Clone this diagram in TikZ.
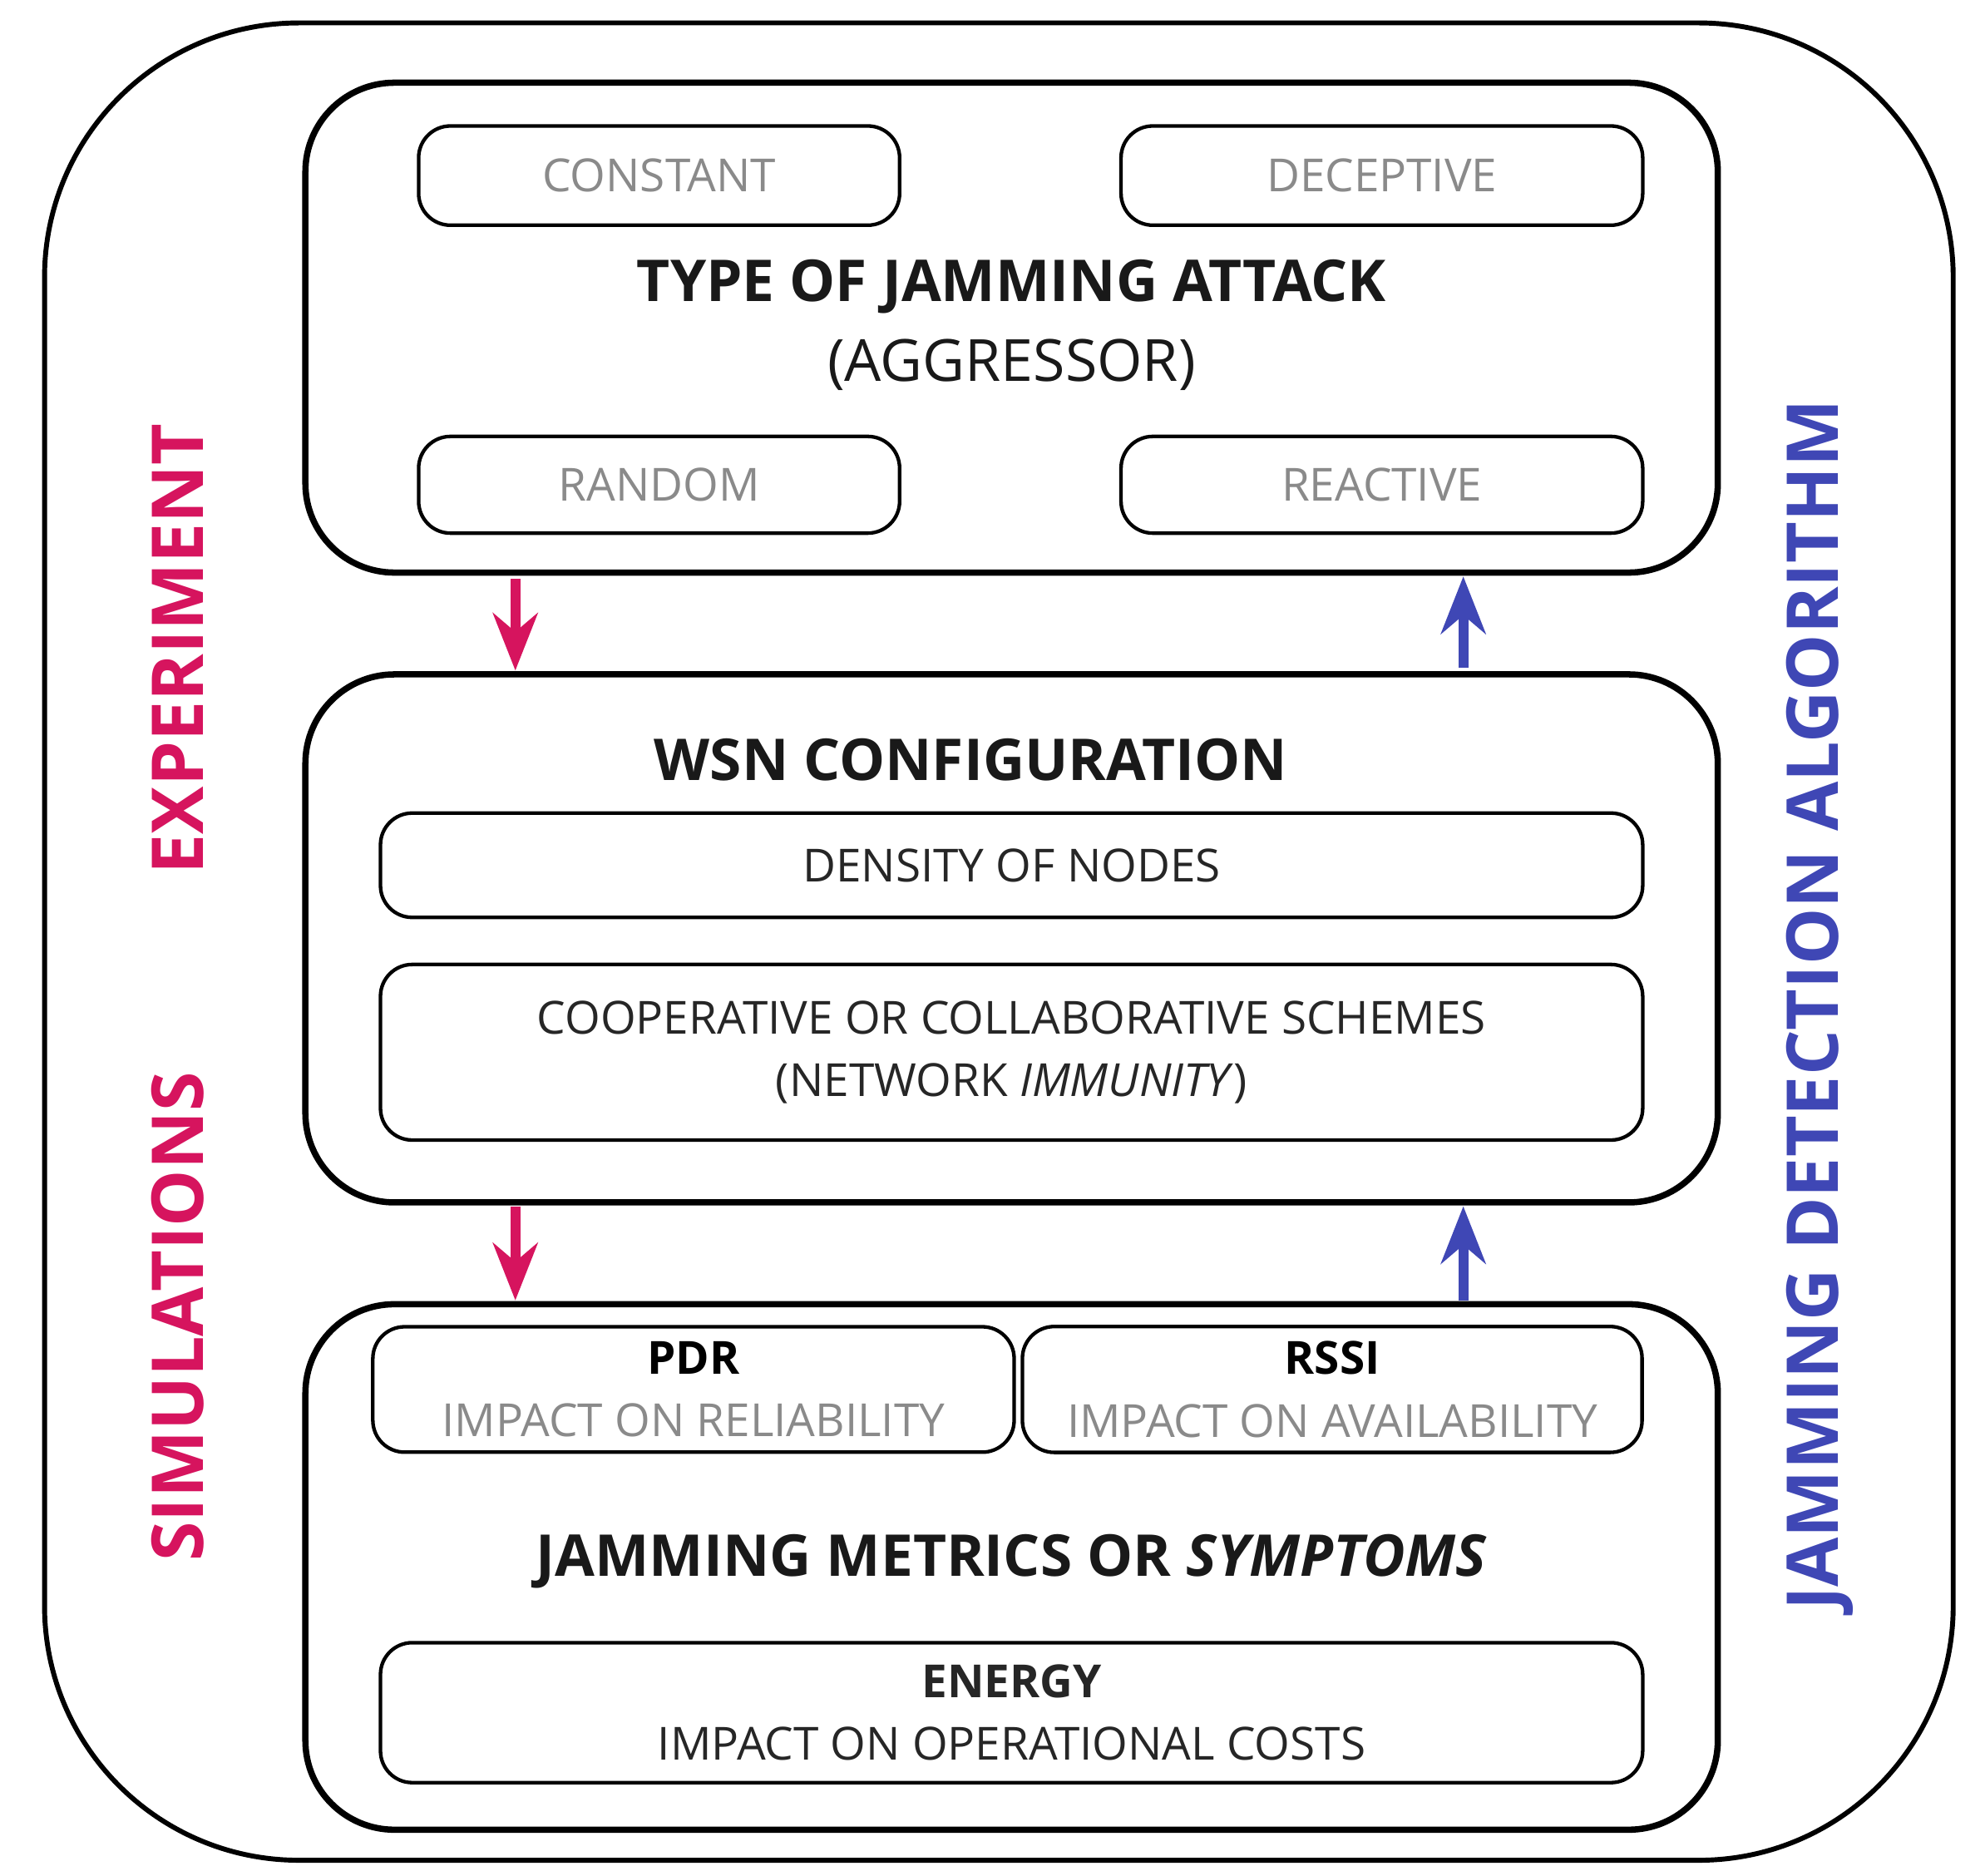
\documentclass[tikz,border=0pt]{standalone}
\usepackage{fontspec}
\setmainfont{Open Sans}
\usetikzlibrary{arrows.meta}
\definecolor{mag}{HTML}{D6145E}
\definecolor{blu}{HTML}{3F47B5}
\definecolor{gry}{HTML}{8A8A8A}
\begin{document}
\begin{tikzpicture}[x=0.1mm,y=-0.1mm,
  big/.style={draw,line width=1.4pt,rounded corners=7mm},
  sub/.style={draw,line width=0.8pt,rounded corners=2.5mm},
  gt/.style={text=gry,font=\fontsize{10.2}{13}\selectfont},
  bt/.style={text=black!85,font=\fontsize{10.2}{13}\selectfont,align=center},
  ttl/.style={text=black!90,font=\bfseries\fontsize{12.9}{16}\selectfont,align=center},
  side/.style={font=\bfseries\fontsize{16}{19}\selectfont,rotate=90},
  arr/.style={line width=2.2pt,-{Stealth[length=4.5mm,width=3.5mm]}}]
\useasboundingbox (0,0) rectangle (1560,1474);
\draw[line width=1.1pt,rounded corners=20mm] (35,18) rectangle (1535,1462);
% top
\draw[big] (240,65) rectangle (1350,450);
\node[sub,minimum width=37.8mm,minimum height=7.8mm,gt] (con) at (518,138) {CONSTANT};
\node[sub,minimum width=41mm,minimum height=7.8mm,gt] (dec) at (1086,138) {DECEPTIVE};
\node[sub,minimum width=37.8mm,minimum height=7.6mm,gt] (ran) at (518,381) {RANDOM};
\node[sub,minimum width=41mm,minimum height=7.6mm,gt] (rea) at (1086,381) {REACTIVE};
\node[ttl] (t1) at (795,225) {TYPE OF JAMMING ATTACK};
\node[text=black!90,font=\fontsize{13}{16}\selectfont] (t2) at (795,287) {(AGGRESSOR)};
% middle
\draw[big] (240,530) rectangle (1350,945);
\node[ttl] (t3) at (763,597) {WSN CONFIGURATION};
\node[sub,minimum width=99.2mm,minimum height=8.2mm,bt] (den) at (795,680) {DENSITY OF NODES};
\node[sub,minimum width=99.2mm,minimum height=13.8mm,bt,font=\fontsize{10.2}{14}\selectfont] (coop) at (795,827) {COOPERATIVE OR COLLABORATIVE SCHEMES\\(NETWORK \textit{IMMUNITY})};
% bottom
\draw[big] (240,1025) rectangle (1350,1438);
\node[sub,minimum width=50.4mm,minimum height=9.8mm,align=center,font=\fontsize{10.2}{14}\selectfont] (pdr) at (545,1092) {\textbf{PDR}\\\textcolor{gry}{IMPACT ON RELIABILITY}};
\node[sub,minimum width=48.7mm,minimum height=9.8mm,align=center,font=\fontsize{10.2}{14}\selectfont] (rssi) at (1047,1092) {\textbf{RSSI}\\\textcolor{gry}{IMPACT ON AVAILABILITY}};
\node[ttl] (t4) at (795,1227) {JAMMING METRICS OR \textit{SYMPTOMS}};
\node[sub,minimum width=99.2mm,minimum height=11mm,bt,font=\fontsize{10.2}{14}\selectfont] (en) at (795,1346) {\textbf{ENERGY}\\IMPACT ON OPERATIONAL COSTS};
% arrows
\coordinate (a1) at (405,455); \coordinate (a2) at (405,527);
\coordinate (a3) at (405,948); \coordinate (a4) at (405,1022);
\coordinate (b1) at (1150,525); \coordinate (b2) at (1150,453);
\coordinate (b3) at (1150,1022); \coordinate (b4) at (1150,948);
\draw[arr,mag] (a1) -- (a2);
\draw[arr,mag] (a3) -- (a4);
\draw[arr,blu] (b1) -- (b2);
\draw[arr,blu] (b3) -- (b4);
% side labels
\node[side,text=mag] (ex) at (140,510) {EXPERIMENT};
\node[side,text=mag] (si) at (140,1035) {SIMULATIONS};
\node[side,text=blu] (jd) at (1430,790) {JAMMING DETECTION ALGORITHM};
\end{tikzpicture}
\end{document}
